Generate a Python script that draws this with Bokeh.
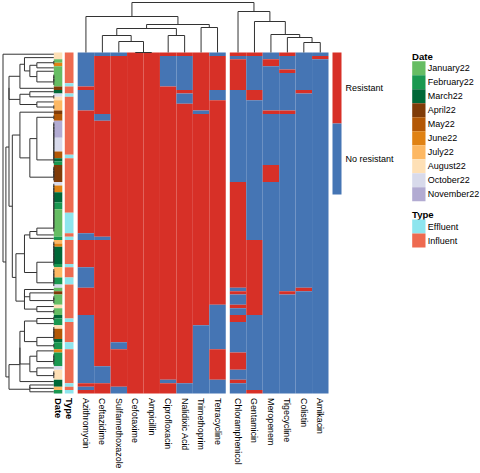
import numpy as np
from bokeh.plotting import figure
from bokeh.models import Range1d
from bokeh.embed import file_html
from bokeh.resources import INLINE
from bokeh.core.properties import value

# ---------------- data ----------------
antibiotics = ["Azithromycin", "Ceftazidime", "Sulfamethoxazole", "Cefotaxime",
               "Ampicillin", "Ciprofloxacin", "Nalidixic Acid", "Trimethoprim",
               "Tetracycline", "Chloramphenicol", "Gentamicin", "Meropenem",
               "Tigecycline", "Colistin", "Amikacin"]
n_left_block = 9
n_samples = 100

# rows (in display order) that are Resistant, per antibiotic: (start, end)
resistant_runs = [
    [(10, 11), (17, 53), (55, 63), (69, 77), (97, 98), (99, 100)],   # Azithromycin
    [(1, 18), (20, 54), (55, 92), (97, 100)],                        # Ceftazidime
    [(1, 85), (87, 98)],                                             # Sulfamethoxazole
    [(0, 100)],                                                      # Cefotaxime
    [(0, 100)],                                                      # Ampicillin
    [(0, 1), (10, 96), (97, 100)],                                   # Ciprofloxacin
    [(0, 1), (11, 12), (15, 97)],                                    # Nalidixic Acid
    [(0, 17), (18, 80)],                                             # Trimethoprim
    [(1, 11), (14, 74), (87, 96)],                                   # Tetracycline
    [(0, 1), (2, 11), (38, 69), (70, 71), (74, 75), (77, 79), (88, 93), (96, 97)],  # Chloramphenicol
    [(0, 1), (11, 14), (55, 77), (99, 100)],                         # Gentamicin
    [(2, 4), (17, 18), (33, 38)],                                    # Meropenem
    [(0, 1), (5, 6), (17, 18), (70, 71)],                            # Tigecycline
    [(11, 12), (69, 70)],                                            # Colistin
    [(1, 2)],                                                        # Amikacin
]

date_levels = ["January22", "February22", "March22", "April22", "May22", "June22",
               "July22", "August22", "October22", "November22"]
date_colors = ["#66BD63", "#1A9850", "#006837", "#7F3B08", "#B35806", "#E08214",
               "#FDB863", "#FEE0B6", "#D8DAEB", "#B2ABD2"]
# run-length sequence of sample dates in display order
date_runs = [("August22", 2), ("January22", 1), ("June22", 1), ("January22", 6),
             ("April22", 1), ("March22", 1), ("October22", 1), ("August22", 1),
             ("July22", 3), ("April22", 1), ("May22", 2), ("November22", 5),
             ("October22", 4), ("May22", 2), ("March22", 1), ("February22", 1),
             ("April22", 5), ("October22", 1), ("June22", 2), ("March22", 3),
             ("February22", 2), ("January22", 8), ("February22", 1), ("July22", 1),
             ("June22", 1), ("March22", 5), ("February22", 1), ("July22", 3),
             ("February22", 2), ("October22", 1), ("January22", 1), ("April22", 1),
             ("January22", 3), ("August22", 1), ("January22", 2), ("March22", 1),
             ("February22", 2), ("August22", 1), ("May22", 3), ("March22", 1),
             ("February22", 2), ("June22", 1), ("February22", 4), ("October22", 1),
             ("August22", 3), ("March22", 2), ("July22", 1), ("February22", 1)]

type_levels = ["Effluent", "Influent"]
type_colors = ["#8EE5EE", "#EE6A50"]
effluent_runs = [(9, 10), (12, 13), (30, 31), (47, 53), (54, 55), (62, 63), (66, 68),
                 (78, 79), (85, 87), (97, 98), (99, 100)]

status_labels = ["Resistant", "No resistant"]
status_colors = ["#D73027", "#4575B4"]

# column clustering (scipy-style linkage: a, b, height); new cluster ids start at 15
col_linkage = [(3, 4, 0.0), (2, 15, 2.2), (1, 16, 3.4), (5, 6, 3.4), (7, 8, 5.0),
               (17, 18, 4.8), (20, 19, 5.6), (0, 21, 7.2), (13, 14, 2.0),
               (12, 23, 3.0), (11, 24, 3.6), (10, 25, 6.2), (9, 26, 8.2),
               (22, 27, 10.0)]

# ---------------- layout (page pixels) ----------------
W, H = 480, 473
HM_TOP, HM_BOT = 52.0, 393.0
RH = (HM_BOT - HM_TOP) / n_samples
CW = 16.45
LEFT_X0, RIGHT_X0 = 77.2, 229.3
DATE_X = (53.3, 61.8)
TYPE_X = (64.3, 73.0)
FONT = value("Liberation Sans")
LINE_COL = "#333333"
LEG_FS = "9px"
TITLE_FS = "9.6px"
COL_FS = "8.9px"

def col_x0(j):
    return LEFT_X0 + j * CW if j < n_left_block else RIGHT_X0 + (j - n_left_block) * CW

def runs_of(seq):
    """group consecutive equal items -> (start, end, item)"""
    out = []
    s = 0
    for i in range(1, len(seq) + 1):
        if i == len(seq) or seq[i] != seq[s]:
            out.append((s, i, seq[s]))
            s = i
    return out

p = figure(width=W, height=H, output_backend="svg", toolbar_location=None,
           x_range=Range1d(0, W), y_range=Range1d(H, 0),
           x_axis_location=None, y_axis_location=None, min_border=0)
p.grid.visible = False
p.outline_line_color = None
p.background_fill_color = "white"

# ---- matrix
n_ab = len(antibiotics)
M = np.zeros((n_samples, n_ab), dtype=int)
for j, runs in enumerate(resistant_runs):
    for s, e in runs:
        M[s:e, j] = 1

L, R, T, B, C = [], [], [], [], []
for j in range(n_ab):
    x0 = col_x0(j)
    for s, e, v in runs_of(list(M[:, j])):
        L.append(x0); R.append(x0 + CW)
        T.append(HM_TOP + s * RH); B.append(HM_TOP + e * RH)
        C.append(status_colors[0] if v == 1 else status_colors[1])
p.quad(left=L, right=R, top=T, bottom=B, fill_color=C, line_color=None)

# ---- annotations
dates = []
for lev, cnt in date_runs:
    dates += [lev] * cnt
types = ["Influent"] * n_samples
for s, e in effluent_runs:
    for i in range(s, e):
        types[i] = "Effluent"
for xs, seq, levels, cols in ((DATE_X, dates, date_levels, date_colors),
                              (TYPE_X, types, type_levels, type_colors)):
    rr = runs_of(seq)
    p.quad(left=xs[0], right=xs[1], top=[HM_TOP + s * RH for s, _, _ in rr],
           bottom=[HM_TOP + e * RH for _, e, _ in rr],
           fill_color=[cols[levels.index(v)] for _, _, v in rr], line_color=None)

# ---- column dendrogram
pos = {j: col_x0(j) + CW / 2 for j in range(n_ab)}
hgt = {j: 0.0 for j in range(n_ab)}
hmax_c = max(h for _, _, h in col_linkage)
def cy(h):
    return HM_TOP - h / hmax_c * 50.0
sx0, sy0, sx1, sy1 = [], [], [], []
for k, (a, b, h) in enumerate(col_linkage):
    for c in (a, b):
        sx0.append(pos[c]); sx1.append(pos[c]); sy0.append(cy(hgt[c])); sy1.append(cy(h))
    sx0.append(pos[a]); sx1.append(pos[b]); sy0.append(cy(h)); sy1.append(cy(h))
    pos[n_ab + k] = (pos[a] + pos[b]) / 2
    hgt[n_ab + k] = h
p.segment(sx0, sy0, sx1, sy1, line_color=LINE_COL, line_width=1)

# ---- row dendrogram (adjacent-constrained complete-linkage clustering of rows)
clusters = [([i], i + 0.5, 0.0) for i in range(n_samples)]
merges = []
while len(clusters) > 1:
    best_k, best_d = 0, np.inf
    for k in range(len(clusters) - 1):
        A = M[clusters[k][0]]; Bm = M[clusters[k + 1][0]]
        d = np.sqrt(((A[:, None, :] - Bm[None, :, :]) ** 2).sum(-1)).max()
        if d < best_d - 1e-9:
            best_d, best_k = d, k
    ca, cb = clusters[best_k], clusters[best_k + 1]
    h = max(best_d, ca[2], cb[2])
    merges.append((ca[1], ca[2], cb[1], cb[2], h))
    clusters[best_k:best_k + 2] = [(ca[0] + cb[0], (ca[1] + cb[1]) / 2, h)]
hmax_r = max(m[4] for m in merges)
def rx(h):
    return DATE_X[0] - h / hmax_r * (DATE_X[0] - 2.5)
def ry(r):
    return HM_TOP + r * RH
rx0, ry0, rx1, ry1 = [], [], [], []
for pa, ha, pb, hb, h in merges:
    rx0 += [rx(ha), rx(hb), rx(h)]
    rx1 += [rx(h), rx(h), rx(h)]
    ry0 += [ry(pa), ry(pb), ry(pa)]
    ry1 += [ry(pa), ry(pb), ry(pb)]
p.segment(rx0, ry0, rx1, ry1, line_color=LINE_COL, line_width=1)

# ---- bottom labels
LAB_Y = 397.5
lab_x = [col_x0(j) + CW / 2 for j in range(n_ab)]
p.text(x=lab_x, y=[LAB_Y] * n_ab, text=antibiotics, angle=-np.pi / 2,
       text_align="left", text_baseline="middle", text_font=FONT,
       text_font_size=COL_FS, text_color="#000000")
p.text(x=[sum(DATE_X) / 2, sum(TYPE_X) / 2], y=[LAB_Y, LAB_Y], text=["Date", "Type"],
       angle=-np.pi / 2, text_align="left", text_baseline="middle", text_font=FONT,
       text_font_size="9.4px", text_font_style="bold", text_color="#000000")

# ---- status legend
LB_X = (332.0, 341.0)
LB_H = 71.0
p.quad(left=LB_X[0], right=LB_X[1],
       top=[HM_TOP + i * LB_H for i in range(2)],
       bottom=[HM_TOP + (i + 1) * LB_H for i in range(2)],
       fill_color=status_colors, line_color=None)
p.text(x=[345.0] * 2, y=[HM_TOP + (i + 0.5) * LB_H for i in range(2)], text=status_labels,
       text_align="left", text_baseline="middle", text_font=FONT,
       text_font_size=LEG_FS, text_color="#000000")

# ---- Date / Type legends
SW_X = (411.7, 425.0)
SW_H = 14.0
D_TOP = 60.7
p.text(x=[411.5], y=[55.5], text=["Date"], text_align="left", text_baseline="middle",
       text_font=FONT, text_font_size=TITLE_FS, text_font_style="bold", text_color="#000000")
nd = len(date_levels)
p.quad(left=SW_X[0], right=SW_X[1], top=[D_TOP + i * SW_H for i in range(nd)],
       bottom=[D_TOP + (i + 1) * SW_H for i in range(nd)], fill_color=date_colors, line_color=None)
p.text(x=[427.3] * nd, y=[D_TOP + (i + 0.5) * SW_H for i in range(nd)], text=date_levels,
       text_align="left", text_baseline="middle", text_font=FONT,
       text_font_size=LEG_FS, text_color="#000000")
T_TOP = 219.0
p.text(x=[411.5], y=[213.5], text=["Type"], text_align="left", text_baseline="middle",
       text_font=FONT, text_font_size=TITLE_FS, text_font_style="bold", text_color="#000000")
nt = len(type_levels)
p.quad(left=SW_X[0], right=SW_X[1], top=[T_TOP + i * SW_H for i in range(nt)],
       bottom=[T_TOP + (i + 1) * SW_H for i in range(nt)], fill_color=type_colors, line_color=None)
p.text(x=[427.3] * nt, y=[T_TOP + (i + 0.5) * SW_H for i in range(nt)], text=type_levels,
       text_align="left", text_baseline="middle", text_font=FONT,
       text_font_size=LEG_FS, text_color="#000000")

open("out.html", "w").write(file_html(p, INLINE))
